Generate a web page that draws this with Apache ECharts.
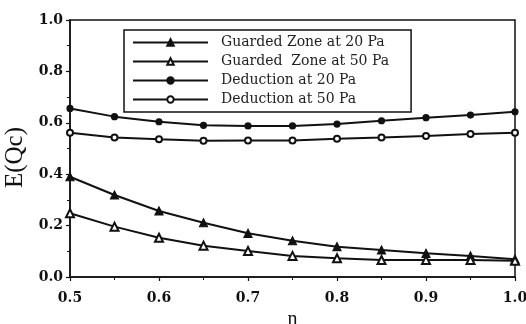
<!DOCTYPE html>
<html>
<head>
<meta charset="utf-8">
<script src="https://cdn.jsdelivr.net/npm/echarts@6/dist/echarts.min.js"></script>
<style>
  html, body { margin: 0; padding: 0; background: #fff; }
  #chart { width: 526px; height: 324px; }
</style>
</head>
<body>
<div id="chart"></div>
<script>
// values
var nValues = [0.5, 0.55, 0.6, 0.65, 0.7, 0.75, 0.8, 0.85, 0.9, 0.95, 1.0];
var guarded20 = [0.390, 0.319, 0.257, 0.211, 0.170, 0.141, 0.118, 0.105, 0.092, 0.082, 0.069];
var guarded50 = [0.248, 0.196, 0.153, 0.122, 0.101, 0.082, 0.073, 0.066, 0.066, 0.066, 0.063];
var deduct20 = [0.656, 0.624, 0.604, 0.590, 0.588, 0.588, 0.595, 0.608, 0.620, 0.630, 0.643];
var deduct50 = [0.561, 0.543, 0.536, 0.530, 0.531, 0.531, 0.538, 0.543, 0.549, 0.556, 0.561];
var seriesNames = ['Guarded Zone at 20 Pa', 'Guarded  Zone at 50 Pa', 'Deduction at 20 Pa', 'Deduction at 50 Pa'];

var serif = '"Liberation Serif", "DejaVu Serif", serif';
var wide = '"DejaVu Serif", serif';

function pairs(ys) {
  return nValues.map(function (x, i) { return [x, ys[i]]; });
}

function makeSeries(name, ys, symbol, size) {
  return {
    name: name,
    type: 'line',
    data: pairs(ys),
    symbol: symbol,
    symbolSize: size,
    showAllSymbol: true,
    lineStyle: { color: '#111', width: 2 },
    itemStyle: { color: '#111', borderColor: '#111', borderWidth: 1.2 },
    emphasis: { disabled: true }
  };
}

var myChart = echarts.init(document.getElementById('chart'));
myChart.setOption({
  animation: false,
  backgroundColor: '#fff',
  grid: {
    left: 70, right: 11, top: 20, bottom: 47,
    outerBoundsMode: 'none',
    containLabel: false,
    show: true, borderColor: '#111', borderWidth: 1.5
  },
  legend: {
    data: seriesNames,
    orient: 'vertical',
    left: 124,
    top: 30,
    itemWidth: 75,
    itemHeight: 8,
    itemGap: 4,
    padding: [5, 22, 5, 8],
    borderColor: '#111',
    borderWidth: 1.5,
    backgroundColor: '#fff',
    textStyle: { fontFamily: wide, fontSize: 14, lineHeight: 15, color: '#222', padding: [0, 0, 0, 8] }
  },
  xAxis: {
    type: 'value',
    min: 0.5,
    max: 1.0,
    interval: 0.1,
    name: 'n',
    nameLocation: 'middle',
    nameGap: 27,
    nameTextStyle: { fontFamily: serif, fontSize: 20, color: '#111' },
    axisLine: { lineStyle: { color: '#111', width: 1.5 } },
    axisTick: { length: 4, lineStyle: { color: '#111', width: 1.2 } },
    minorTick: { show: true, splitNumber: 2, length: 3, lineStyle: { color: '#111' } },
    splitLine: { show: false },
    axisLabel: {
      fontFamily: wide, fontSize: 14, fontWeight: 'bold', color: '#111', margin: 14,
      formatter: function (v) { return v.toFixed(1); }
    }
  },
  yAxis: {
    type: 'value',
    min: 0,
    max: 1.0,
    interval: 0.2,
    name: 'E(Qc)',
    nameLocation: 'middle',
    nameGap: 35,
    nameTextStyle: { fontFamily: serif, fontSize: 25, color: '#111', padding: [0, 0, 0, -18] },
    axisLine: { show: true, lineStyle: { color: '#111', width: 1.5 } },
    axisTick: { show: true, length: 4, lineStyle: { color: '#111', width: 1.2 } },
    minorTick: { show: true, splitNumber: 2, length: 3, lineStyle: { color: '#111' } },
    splitLine: { show: false },
    axisLabel: {
      fontFamily: wide, fontSize: 14, fontWeight: 'bold', color: '#111', margin: 7,
      formatter: function (v) { return v.toFixed(1); }
    }
  },
  series: [
    makeSeries(seriesNames[0], guarded20, 'triangle', 8),
    makeSeries(seriesNames[1], guarded50, 'emptyTriangle', 8),
    makeSeries(seriesNames[2], deduct20, 'circle', 6),
    makeSeries(seriesNames[3], deduct50, 'emptyCircle', 6)
  ]
});
</script>
</body>
</html>
